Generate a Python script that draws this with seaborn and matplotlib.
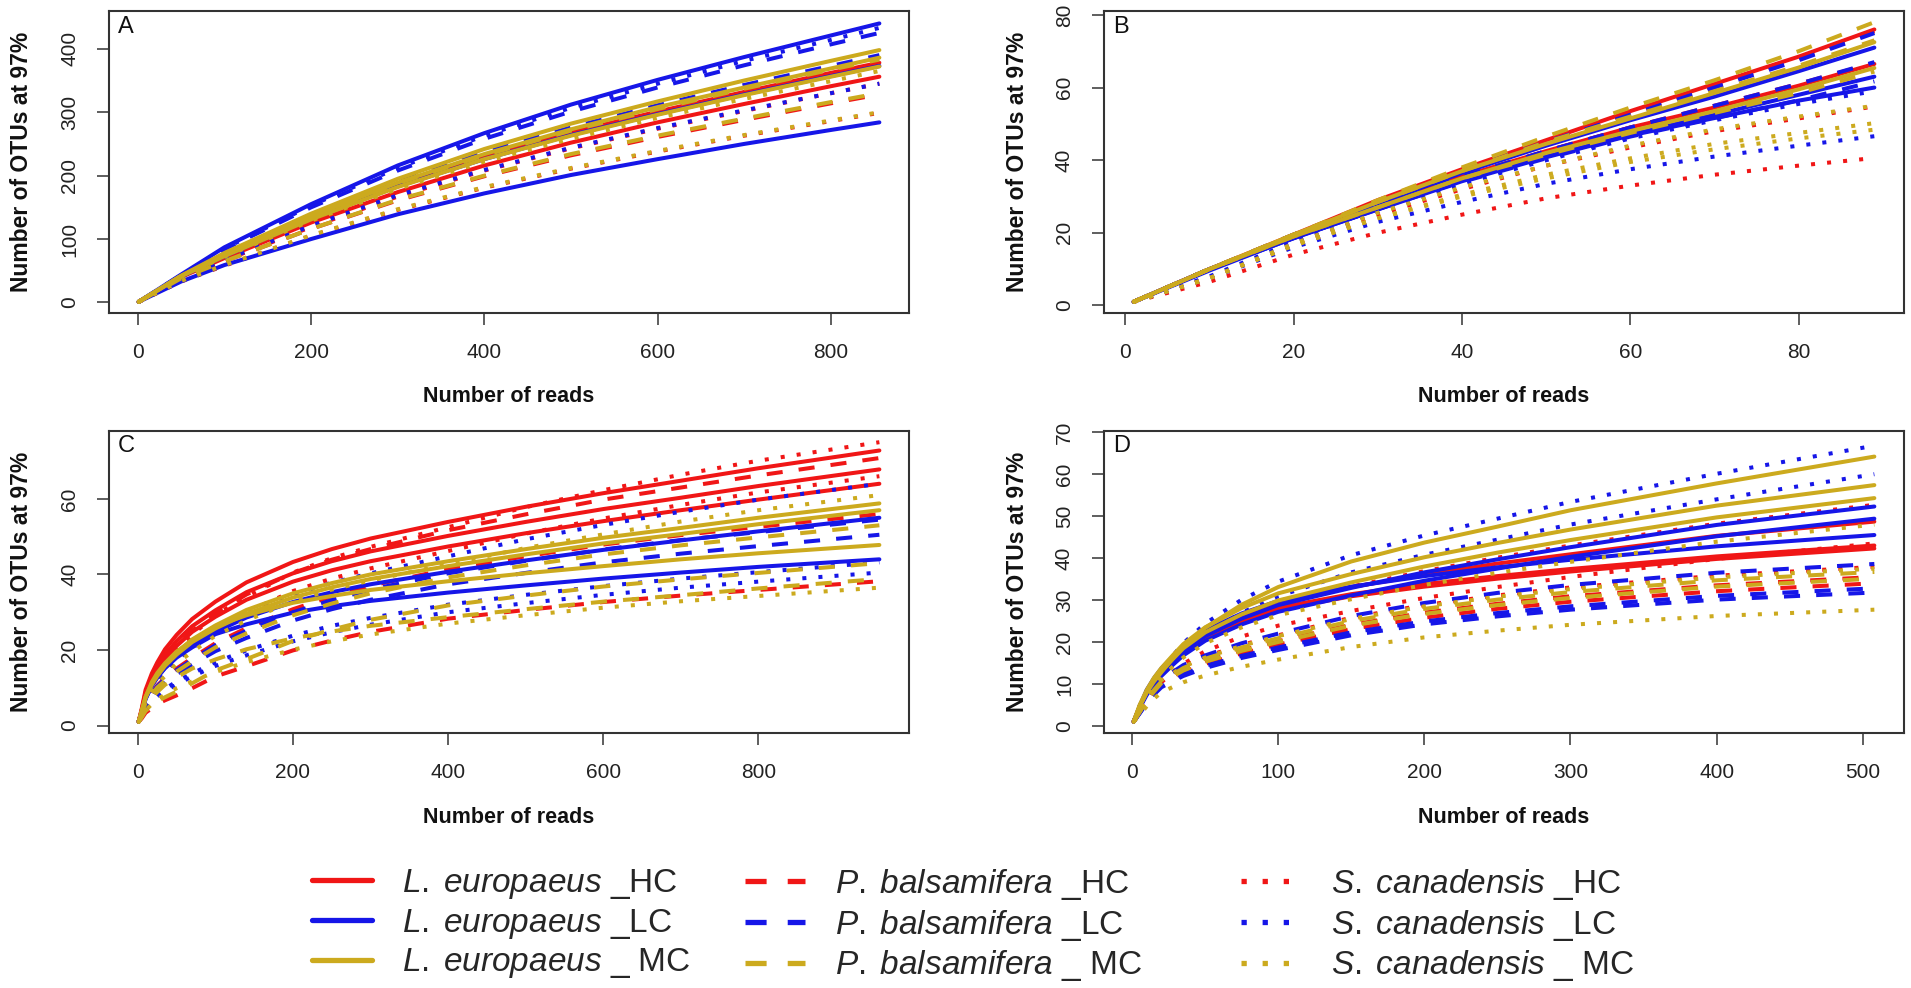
import matplotlib
matplotlib.use("Agg")
import matplotlib.pyplot as plt
from matplotlib.lines import Line2D
import pandas as pd
import seaborn as sns

# ---------------- data ----------------
SPECIES = ["L. europaeus", "P. balsamifera", "S. canadensis"]
TREATMENTS = ["HC", "LC", "MC"]
TRT_LABELS = {"HC": "_HC", "LC": "_LC", "MC": "_ MC"}

# Panel A
A_READS = [1, 50, 100, 200, 300, 400, 500, 600, 700, 800, 856]
A_LE_HC = [[1, 41, 74, 133, 185, 229, 268, 301, 332, 362, 378],
           [1, 40, 70, 126, 174, 216, 252, 284, 313, 341, 356]]
A_LE_LC = [[1, 44, 87, 155, 216, 267, 312, 351, 387, 421, 440],
           [1, 41, 73, 132, 183, 226, 264, 297, 328, 357, 373],
           [1, 33, 59, 100, 139, 172, 201, 226, 250, 272, 284]]
A_LE_MC = [[1, 42, 78, 140, 195, 242, 282, 317, 350, 381, 398],
           [1, 42, 76, 136, 189, 234, 273, 308, 339, 369, 386],
           [1, 41, 73, 131, 182, 226, 263, 296, 327, 356, 372]]
A_PB_HC = [[1, 41, 74, 132, 184, 228, 266, 299, 330, 359, 375],
           [1, 38, 65, 116, 161, 199, 232, 261, 288, 314, 328]]
A_PB_LC = [[1, 43, 84, 150, 208, 258, 301, 339, 374, 407, 425],
           [1, 42, 77, 138, 191, 237, 276, 311, 343, 373, 390]]
A_PB_MC = [[1, 42, 75, 135, 188, 232, 271, 305, 337, 367, 383],
           [1, 38, 65, 116, 162, 200, 234, 263, 290, 316, 330]]
A_SC_HC = [[1, 36, 66, 119, 167, 208, 243, 274, 302, 330, 345],
           [1, 33, 58, 105, 146, 181, 211, 238, 263, 286, 299]]
A_SC_LC = [[1, 43, 85, 153, 212, 263, 307, 345, 381, 414, 433],
           [1, 37, 67, 121, 169, 209, 244, 275, 303, 330, 345]]
A_SC_MC = [[1, 40, 72, 129, 179, 222, 258, 291, 321, 349, 365],
           [1, 34, 59, 106, 147, 182, 212, 239, 264, 287, 300]]

# Panel B
B_READS = [1, 10, 20, 30, 40, 50, 60, 70, 80, 89]
B_LE_HC = [[1, 10, 19.5, 29, 37.5, 45.5, 53.5, 61, 68.5, 76],
           [1, 10, 19, 27.5, 35.5, 42.5, 49, 54.5, 60.5, 66.5]]
B_LE_LC = [[1, 10, 19, 28, 36.5, 44, 51, 57.5, 64.5, 71],
           [1, 10, 18.5, 26.5, 34.5, 41, 47, 52.5, 58, 63],
           [1, 9.6, 18.6, 26.4, 34.2, 40.8, 46.8, 51.6, 56.4, 60]]
B_LE_MC = [[1, 10, 19.5, 28.5, 37, 44.5, 51.5, 58.5, 65.5, 72.5],
           [1, 10, 19, 27, 35, 42, 48, 53.5, 59.5, 65.4]]
B_PB_HC = [[1, 10, 19.5, 28.5, 37.5, 45.5, 53, 60.5, 68, 75.5],
           [1, 10, 19, 27.5, 35.5, 42.5, 49, 55, 61, 66.8]]
B_PB_LC = [[1, 10, 19.5, 28.5, 37, 45, 52.5, 60, 67.5, 75],
           [1, 10, 19, 27.5, 35.5, 42.5, 49, 55, 61, 67],
           [1, 10, 18.5, 26.5, 34, 40.5, 46.5, 51.5, 56.5, 61.7]]
B_PB_MC = [[1, 10, 19.5, 29, 38, 46.5, 54.5, 62, 70, 78],
           [1, 10, 19.5, 28.5, 37, 45, 52, 59, 66, 73],
           [1, 10, 19, 27, 35, 41.5, 47.5, 53, 58.5, 64.4]]
B_SC_HC = [[1, 7.5, 16.5, 25, 32, 38.5, 43.5, 48, 51.5, 54.8],
           [1, 6.5, 14, 20, 25, 29.5, 33, 36, 38.5, 40.6]]
B_SC_LC = [[1, 8, 17.5, 26, 33.5, 40, 46, 51, 55.5, 59],
           [1, 7.5, 16, 23, 28.5, 33.5, 37.5, 41, 44, 46.6]]
B_SC_MC = [[1, 7.5, 17, 25.5, 32.5, 38.5, 44, 48.5, 52, 55],
           [1, 7.5, 16.5, 24, 30.5, 36, 40.5, 44.5, 47.5, 50.2],
           [1, 7.5, 16.5, 24, 30, 35, 39.5, 43, 46, 48.4]]

# Panel C
C_READS = [1, 5, 10, 18, 25, 35, 50, 70, 100, 140, 200, 250, 300, 400, 500, 600, 700, 800, 956]
C_LE_HC = [[1, 4.5, 9.5, 13.8, 16.7, 20.2, 24.0, 28.2, 32.8, 37.9, 43.3, 46.7, 49.5, 53.9, 57.9, 61.5, 64.8, 68.1, 72.8],
           [1, 4.2, 8.8, 12.9, 15.6, 18.8, 22.4, 26.3, 30.5, 35.3, 40.3, 43.5, 46.1, 50.2, 53.9, 57.3, 60.3, 63.4, 67.8],
           [1, 4.0, 8.3, 12.2, 14.7, 17.8, 21.1, 24.8, 28.8, 33.3, 38.1, 41.1, 43.5, 47.4, 50.9, 54.1, 57.0, 59.8, 64]]
C_LE_LC = [[1, 3.4, 7.2, 10.5, 12.7, 15.3, 18.2, 21.3, 24.8, 28.6, 32.7, 35.3, 37.4, 40.7, 43.7, 46.5, 49.0, 51.4, 55],
           [1, 3.7, 7.0, 10.6, 12.8, 15.2, 18.0, 20.7, 24.2, 26.8, 29.9, 31.6, 33.0, 35.2, 37.1, 38.9, 40.5, 42.0, 44]]
C_LE_MC = [[1, 3.6, 7.6, 11.2, 13.5, 16.3, 19.4, 22.8, 26.5, 30.6, 35.0, 37.7, 40.0, 43.5, 46.7, 49.7, 52.3, 55.0, 58.8],
           [1, 3.5, 7.4, 10.8, 13.1, 15.8, 18.8, 22.1, 25.7, 29.6, 33.9, 36.6, 38.8, 42.2, 45.3, 48.2, 50.7, 53.3, 57],
           [1, 4.1, 7.6, 11.5, 13.9, 16.5, 19.6, 22.5, 26.3, 29.2, 32.5, 34.3, 35.9, 38.2, 40.3, 42.2, 44.0, 45.6, 47.8]]
C_PB_HC = [[1, 3.9, 7.8, 11.3, 14.2, 17.3, 21.2, 25.1, 29.7, 34.7, 40.4, 43.9, 46.7, 51.7, 55.9, 59.8, 63.0, 66.2, 70.8],
           [1, 3.4, 6.2, 8.7, 10.6, 12.6, 15.1, 17.9, 21.8, 25.8, 30.8, 34.2, 37.0, 41.4, 44.8, 47.9, 50.4, 52.6, 56],
           [1, 1.9, 3.4, 4.6, 5.7, 6.7, 8.0, 9.9, 13.0, 15.7, 19.9, 22.5, 24.8, 28.3, 30.6, 32.7, 34.4, 35.9, 38.2]]
C_PB_LC = [[1, 3.3, 6.0, 8.4, 10.4, 12.3, 14.7, 17.4, 21.3, 25.1, 30.0, 33.2, 36.0, 40.3, 43.6, 46.6, 49.1, 51.2, 54.5],
           [1, 3.0, 5.6, 7.8, 9.6, 11.4, 13.6, 16.2, 19.7, 23.2, 27.8, 30.8, 33.3, 37.4, 40.4, 43.2, 45.5, 47.5, 50.5]]
C_PB_MC = [[1, 3.2, 5.8, 8.2, 10.1, 11.9, 14.3, 17.0, 20.7, 24.4, 29.2, 32.3, 35.0, 39.2, 42.4, 45.3, 47.7, 49.8, 53],
           [1, 2.2, 3.9, 5.2, 6.5, 7.5, 9.0, 11.2, 14.6, 17.6, 22.4, 25.4, 28.0, 31.8, 34.4, 36.8, 38.7, 40.4, 43],
           [1, 2.4, 5.0, 7.4, 8.9, 10.8, 12.8, 15.1, 17.5, 20.2, 23.1, 24.9, 26.4, 28.7, 30.8, 32.8, 34.5, 36.3, 38.8]]
C_SC_HC = [[1, 3.8, 7.5, 10.9, 13.5, 16.1, 20.3, 24.0, 29.3, 34.1, 40.5, 44.3, 47.3, 52.5, 57.8, 62.3, 66.4, 70.1, 75],
           [1, 3.3, 6.6, 9.6, 11.9, 14.2, 17.8, 21.1, 25.7, 30.0, 35.6, 38.9, 41.6, 46.2, 50.8, 54.8, 58.4, 61.7, 66]]
C_SC_LC = [[1, 3.2, 6.4, 9.3, 11.5, 13.8, 17.3, 20.5, 25.0, 29.1, 34.6, 37.8, 40.3, 44.8, 49.3, 53.1, 56.6, 59.8, 64],
           [1, 2.6, 4.8, 6.7, 8.2, 9.7, 11.7, 13.8, 16.8, 19.9, 23.8, 26.4, 28.5, 32.0, 34.6, 36.9, 38.9, 40.6, 43.2],
           [1, 2.4, 4.5, 6.3, 7.7, 9.1, 10.9, 13.0, 15.8, 18.6, 22.3, 24.7, 26.7, 30.0, 32.4, 34.6, 36.5, 38.1, 40.5]]
C_SC_MC = [[1, 3.1, 6.1, 8.8, 11.0, 13.1, 16.5, 19.5, 23.8, 27.8, 32.9, 36.0, 38.4, 42.7, 47.0, 50.6, 54.0, 57.0, 61],
           [1, 2.2, 4.0, 5.7, 6.9, 8.2, 9.9, 11.7, 14.2, 16.8, 20.1, 22.3, 24.1, 27.0, 29.2, 31.2, 32.9, 34.3, 36.5]]

# Panel D
D_READS = [1, 5, 10, 15, 20, 28, 35, 50, 75, 100, 150, 200, 250, 300, 400, 508]
D_LE_HC = [[1, 4.5, 8.3, 11.0, 13.1, 16.1, 18.5, 22.2, 26.3, 29.2, 33.1, 36.0, 38.7, 40.9, 45.3, 48.7],
           [1, 4.3, 8.2, 10.8, 12.9, 15.7, 18.1, 21.5, 25.4, 28.2, 31.4, 33.8, 35.7, 37.4, 40.4, 43],
           [1, 4.2, 8.0, 10.6, 12.7, 15.4, 17.8, 21.2, 25.0, 27.7, 30.9, 33.2, 35.1, 36.8, 39.8, 42.3]]
D_LE_LC = [[1, 4.4, 7.8, 10.5, 12.6, 15.4, 17.8, 21.4, 25.6, 28.8, 32.9, 36.6, 39.7, 42.6, 47.9, 52.3],
           [1, 4.2, 7.4, 9.9, 11.9, 14.6, 16.8, 20.3, 24.2, 27.2, 31.1, 34.6, 37.5, 40.3, 45.2, 49.4],
           [1, 4.6, 8.6, 11.4, 13.7, 16.6, 19.1, 22.8, 26.8, 29.8, 33.2, 35.7, 37.8, 39.6, 42.8, 45.5]]
D_LE_MC = [[1, 4.5, 8.0, 10.6, 12.8, 16.2, 18.9, 23.4, 28.9, 33.1, 39.2, 43.7, 47.5, 51.4, 57.8, 64.2],
           [1, 4.9, 8.6, 11.5, 13.8, 16.9, 19.5, 23.5, 28.1, 31.6, 36.2, 40.2, 43.6, 46.8, 52.5, 57.4],
           [1, 4.6, 8.1, 10.9, 13.0, 16.0, 18.5, 22.3, 26.6, 29.9, 34.2, 38.0, 41.3, 44.3, 49.7, 54.3]]
D_PB_HC = [[1, 3.2, 6.0, 8.3, 10.3, 11.9, 13.3, 15.4, 18.1, 20.2, 24.1, 27.0, 29.1, 30.9, 33.5, 35.5],
           [1, 3.1, 5.8, 8.0, 9.9, 11.4, 12.8, 14.8, 17.3, 19.4, 23.1, 25.8, 27.9, 29.6, 32.1, 34]]
D_PB_LC = [[1, 3.5, 6.6, 9.1, 11.2, 12.9, 14.5, 16.8, 19.7, 22.0, 26.2, 29.3, 31.7, 33.6, 36.5, 38.6],
           [1, 3.0, 5.6, 7.7, 9.5, 11.0, 12.3, 14.3, 16.7, 18.7, 22.3, 24.9, 26.9, 28.5, 31.0, 32.8],
           [1, 2.9, 5.4, 7.5, 9.2, 10.7, 11.9, 13.8, 16.2, 18.1, 21.6, 24.2, 26.1, 27.7, 30.1, 31.8]]
D_PB_MC = [[1, 3.3, 6.2, 8.6, 10.6, 12.3, 13.8, 16.0, 18.7, 20.9, 25.0, 27.9, 30.1, 31.9, 34.7, 36.7],
           [1, 3.2, 6.0, 8.2, 10.2, 11.8, 13.2, 15.3, 17.9, 20.0, 23.9, 26.7, 28.8, 30.5, 33.2, 35.1]]
D_SC_HC = [[1, 4.5, 7.9, 10.5, 12.6, 15.5, 17.9, 21.6, 25.8, 29.0, 33.2, 36.9, 40.1, 43.0, 48.2, 52.7],
           [1, 3.7, 6.5, 8.7, 10.4, 12.8, 14.8, 17.8, 21.3, 23.9, 27.4, 30.5, 33.1, 35.5, 39.8, 43.5],
           [1, 3.4, 6.4, 8.9, 11.0, 12.7, 14.2, 16.5, 19.3, 21.6, 25.8, 28.8, 31.1, 33.0, 35.8, 37.9]]
D_SC_LC = [[1, 4.7, 8.4, 11.0, 13.4, 16.8, 19.7, 24.4, 30.1, 34.4, 40.7, 45.4, 49.4, 53.4, 60.1, 66.8],
           [1, 4.2, 7.5, 9.9, 12.0, 15.1, 17.7, 21.9, 27.0, 30.9, 36.6, 40.8, 44.4, 48.0, 54.0, 60]]
D_SC_MC = [[1, 4.1, 7.2, 9.6, 11.5, 14.2, 16.3, 19.7, 23.5, 26.4, 30.2, 33.6, 36.5, 39.1, 43.9, 48],
           [1, 3.4, 6.4, 8.8, 10.9, 12.6, 14.1, 16.3, 19.1, 21.4, 25.5, 28.5, 30.8, 32.6, 35.4, 37.5],
           [1, 2.5, 4.7, 6.5, 8.0, 9.3, 10.4, 12.0, 14.1, 15.8, 18.8, 21.1, 22.7, 24.1, 26.2, 27.7]]

PANEL_LETTERS = ["A", "B", "C", "D"]
X_TICKS = [[0, 200, 400, 600, 800], [0, 20, 40, 60, 80],
           [0, 200, 400, 600, 800], [0, 100, 200, 300, 400, 500]]
Y_TICKS = [[0, 100, 200, 300, 400], [0, 20, 40, 60, 80],
           [0, 20, 40, 60], [0, 10, 20, 30, 40, 50, 60, 70]]

# ---------------- style ----------------
COLORS = {"HC": "#f01616", "LC": "#1616e8", "MC": "#ccaa1e"}
DASHES = {"L. europaeus": "", "P. balsamifera": (4, 4), "S. canadensis": (1, 3)}
LEG_STYLE = {"L. europaeus": "-", "P. balsamifera": (0, (4, 4)), "S. canadensis": (0, (1, 3))}

sns.set_theme(style="white")
plt.rcParams["font.family"] = ["Liberation Sans", "DejaVu Sans"]
plt.rcParams["mathtext.fontset"] = "custom"
plt.rcParams["mathtext.it"] = "Liberation Sans:italic"
plt.rcParams["mathtext.rm"] = "Liberation Sans"
plt.rcParams["mathtext.bf"] = "Liberation Sans:bold"


def build(reads, groups):
    rows = []
    for sp in SPECIES:
        for trt in TREATMENTS:
            for k, ys in enumerate(groups[(sp, trt)]):
                for x, y in zip(reads, ys):
                    rows.append((sp, trt, f"{sp}_{trt}_{k}", x, y))
    return pd.DataFrame(rows, columns=["species", "treatment", "curve", "reads", "otus"])


PANELS = [
    (A_READS, {("L. europaeus", "HC"): A_LE_HC, ("L. europaeus", "LC"): A_LE_LC, ("L. europaeus", "MC"): A_LE_MC,
               ("P. balsamifera", "HC"): A_PB_HC, ("P. balsamifera", "LC"): A_PB_LC, ("P. balsamifera", "MC"): A_PB_MC,
               ("S. canadensis", "HC"): A_SC_HC, ("S. canadensis", "LC"): A_SC_LC, ("S. canadensis", "MC"): A_SC_MC}),
    (B_READS, {("L. europaeus", "HC"): B_LE_HC, ("L. europaeus", "LC"): B_LE_LC, ("L. europaeus", "MC"): B_LE_MC,
               ("P. balsamifera", "HC"): B_PB_HC, ("P. balsamifera", "LC"): B_PB_LC, ("P. balsamifera", "MC"): B_PB_MC,
               ("S. canadensis", "HC"): B_SC_HC, ("S. canadensis", "LC"): B_SC_LC, ("S. canadensis", "MC"): B_SC_MC}),
    (C_READS, {("L. europaeus", "HC"): C_LE_HC, ("L. europaeus", "LC"): C_LE_LC, ("L. europaeus", "MC"): C_LE_MC,
               ("P. balsamifera", "HC"): C_PB_HC, ("P. balsamifera", "LC"): C_PB_LC, ("P. balsamifera", "MC"): C_PB_MC,
               ("S. canadensis", "HC"): C_SC_HC, ("S. canadensis", "LC"): C_SC_LC, ("S. canadensis", "MC"): C_SC_MC}),
    (D_READS, {("L. europaeus", "HC"): D_LE_HC, ("L. europaeus", "LC"): D_LE_LC, ("L. europaeus", "MC"): D_LE_MC,
               ("P. balsamifera", "HC"): D_PB_HC, ("P. balsamifera", "LC"): D_PB_LC, ("P. balsamifera", "MC"): D_PB_MC,
               ("S. canadensis", "HC"): D_SC_HC, ("S. canadensis", "LC"): D_SC_LC, ("S. canadensis", "MC"): D_SC_MC}),
]

W, H = 1911, 988
fig = plt.figure(figsize=(W / 100, H / 100), dpi=100)

# axes boxes in pixels: (left, top, width, height)
BOXES = [(109, 11, 800, 302), (1104, 11, 800, 302), (109, 431, 800, 302), (1104, 431, 800, 302)]
XLIMS = [(-33.2, 890.2), (-2.52, 92.52), (-37.2, 994.2), (-19.3, 528.3)]
YLIMS = [(-16.6, 459.6), (-2.08, 81.08), (-1.96, 77.96), (-1.7, 70.3)]

for i, (reads, groups) in enumerate(PANELS):
    l, t, w, h = BOXES[i]
    ax = fig.add_axes([l / W, 1 - (t + h) / H, w / W, h / H])
    df = build(reads, groups)
    sns.lineplot(data=df, x="reads", y="otus", hue="treatment", style="species",
                 units="curve", estimator=None, sort=False,
                 hue_order=TREATMENTS, style_order=SPECIES,
                 palette=COLORS, dashes=DASHES, linewidth=2.9, legend=False, ax=ax)
    ax.set_xlim(*XLIMS[i])
    ax.set_ylim(*YLIMS[i])
    ax.set_xticks(X_TICKS[i])
    ax.set_yticks(Y_TICKS[i])
    ax.tick_params(direction="out", length=8.6, width=1.1, color="#333333",
                   labelsize=15, labelcolor="#222222", pad=13)
    ax.tick_params(axis="x", bottom=True)
    ax.tick_params(axis="y", left=True, labelrotation=90)
    for lab in ax.get_yticklabels():
        lab.set_va("center")
    for s in ax.spines.values():
        s.set_visible(True)
        s.set_linewidth(1.5)
        s.set_color("#333333")
    ax.set_xlabel("Number of reads", fontsize=15.5, fontweight="bold", color="#111111")
    ax.xaxis.set_label_coords(0.5, -84 / h)
    ax.xaxis.label.set_va("center")
    ax.set_ylabel("Number of OTUs at 97%", fontsize=16.5, fontweight="bold", color="#111111")
    ax.yaxis.set_label_coords(-87 / w, 0.5)
    ax.yaxis.label.set_va("center")
    ax.text(9 / w, 1 - 4.5 / h, PANEL_LETTERS[i], transform=ax.transAxes,
            ha="left", va="top", fontsize=17, color="#111111")

# ---------------- legend: one column per species ----------------
LEG_X = [312, 745, 1241]
for col, sp in enumerate(SPECIES):
    handles, labels = [], []
    sp_tex = sp.replace(" ", r"\;")
    for trt in TREATMENTS:
        handles.append(Line2D([], [], color=COLORS[trt], linewidth=3.8, linestyle=LEG_STYLE[sp]))
        labels.append(r"$\it{" + sp_tex + r"}$ " + TRT_LABELS[trt])
    fig.legend(handles, labels, loc="upper left", bbox_to_anchor=(LEG_X[col] / W, 1 - 867 / H),
               frameon=False, fontsize=24, handlelength=1.8, handletextpad=0.9,
               labelspacing=0.17, borderpad=0, borderaxespad=0)

fig.savefig("out.png", dpi=100, facecolor="white")
